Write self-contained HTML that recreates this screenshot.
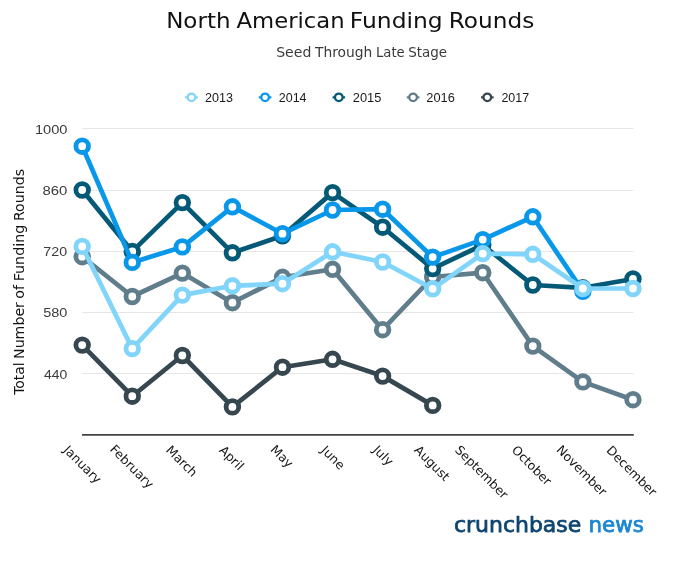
<!DOCTYPE html><html><head><meta charset="utf-8"><title>North American Funding Rounds</title><style>html,body{margin:0;padding:0;background:#fff;overflow:hidden;}svg{display:block;will-change:transform;}text{font-family:"DejaVu Sans","Liberation Sans",sans-serif;}</style></head><body>
<svg width="680" height="567" viewBox="0 0 680 567">
<rect width="680" height="567" fill="#fff"/>
<text x="166.15" y="28.1" font-size="21.6" font-weight="normal" fill="#111" textLength="64.36" lengthAdjust="spacingAndGlyphs">North</text>
<text x="236.55" y="28.1" font-size="21.6" font-weight="normal" fill="#111" textLength="108.12" lengthAdjust="spacingAndGlyphs">American</text>
<text x="349.85" y="28.1" font-size="21.6" font-weight="normal" fill="#111" textLength="92.8" lengthAdjust="spacingAndGlyphs">Funding</text>
<text x="448.75" y="28.1" font-size="21.6" font-weight="normal" fill="#111" textLength="85.51" lengthAdjust="spacingAndGlyphs">Rounds</text>
<text x="276.2" y="56.9" font-size="13.2" font-weight="normal" fill="#3a3a3a" textLength="35.15" lengthAdjust="spacingAndGlyphs">Seed</text>
<text x="315.0" y="56.9" font-size="13.2" font-weight="normal" fill="#3a3a3a" textLength="57.26" lengthAdjust="spacingAndGlyphs">Through</text>
<text x="375.95" y="56.9" font-size="13.2" font-weight="normal" fill="#3a3a3a" textLength="28.77" lengthAdjust="spacingAndGlyphs">Late</text>
<text x="408.25" y="56.9" font-size="13.2" font-weight="normal" fill="#3a3a3a" textLength="38.89" lengthAdjust="spacingAndGlyphs">Stage</text>
<line x1="185.20" y1="97.35" x2="197.80" y2="97.35" stroke="#81D4FA" stroke-width="2.2"/>
<circle cx="191.50" cy="97.35" r="3.8" fill="#fff" stroke="#81D4FA" stroke-width="2.3"/>
<text x="205.1" y="102.1" font-size="12.6" font-weight="normal" fill="#1a1a1a" textLength="27.93" lengthAdjust="spacingAndGlyphs" style="font-family:&quot;Liberation Sans&quot;,sans-serif">2013</text>
<line x1="258.80" y1="97.35" x2="271.40" y2="97.35" stroke="#0897E9" stroke-width="2.2"/>
<circle cx="265.10" cy="97.35" r="3.8" fill="#fff" stroke="#0897E9" stroke-width="2.3"/>
<text x="278.8" y="102.1" font-size="12.6" font-weight="normal" fill="#1a1a1a" textLength="27.77" lengthAdjust="spacingAndGlyphs" style="font-family:&quot;Liberation Sans&quot;,sans-serif">2014</text>
<line x1="332.50" y1="97.35" x2="345.10" y2="97.35" stroke="#045A76" stroke-width="2.2"/>
<circle cx="338.80" cy="97.35" r="3.8" fill="#fff" stroke="#045A76" stroke-width="2.3"/>
<text x="352.8" y="102.1" font-size="12.6" font-weight="normal" fill="#1a1a1a" textLength="28.55" lengthAdjust="spacingAndGlyphs" style="font-family:&quot;Liberation Sans&quot;,sans-serif">2015</text>
<line x1="406.80" y1="97.35" x2="419.40" y2="97.35" stroke="#607D8B" stroke-width="2.2"/>
<circle cx="413.10" cy="97.35" r="3.8" fill="#fff" stroke="#607D8B" stroke-width="2.3"/>
<text x="426.3" y="102.1" font-size="12.6" font-weight="normal" fill="#1a1a1a" textLength="28.55" lengthAdjust="spacingAndGlyphs" style="font-family:&quot;Liberation Sans&quot;,sans-serif">2016</text>
<line x1="481.00" y1="97.35" x2="493.60" y2="97.35" stroke="#37474F" stroke-width="2.2"/>
<circle cx="487.30" cy="97.35" r="3.8" fill="#fff" stroke="#37474F" stroke-width="2.3"/>
<text x="501.4" y="102.1" font-size="12.6" font-weight="normal" fill="#1a1a1a" textLength="27.82" lengthAdjust="spacingAndGlyphs" style="font-family:&quot;Liberation Sans&quot;,sans-serif">2017</text>
<line x1="82" y1="128.5" x2="633.3" y2="128.5" stroke="#e6e6e6" stroke-width="1"/>
<line x1="82" y1="190.5" x2="633.3" y2="190.5" stroke="#e6e6e6" stroke-width="1"/>
<line x1="82" y1="251.5" x2="633.3" y2="251.5" stroke="#e6e6e6" stroke-width="1"/>
<line x1="82" y1="312.5" x2="633.3" y2="312.5" stroke="#e6e6e6" stroke-width="1"/>
<line x1="82" y1="373.5" x2="633.3" y2="373.5" stroke="#e6e6e6" stroke-width="1"/>
<text x="34.9" y="133.9" font-size="12.5" font-weight="normal" fill="#3c3c3c" textLength="32.54" lengthAdjust="spacingAndGlyphs" style="font-family:&quot;Liberation Sans&quot;,sans-serif">1000</text>
<text x="42.4" y="195.0" font-size="12.5" font-weight="normal" fill="#3c3c3c" textLength="24.88" lengthAdjust="spacingAndGlyphs" style="font-family:&quot;Liberation Sans&quot;,sans-serif">860</text>
<text x="43.35" y="256.0" font-size="12.5" font-weight="normal" fill="#3c3c3c" textLength="23.73" lengthAdjust="spacingAndGlyphs" style="font-family:&quot;Liberation Sans&quot;,sans-serif">720</text>
<text x="43.2" y="316.9" font-size="12.5" font-weight="normal" fill="#3c3c3c" textLength="24.2" lengthAdjust="spacingAndGlyphs" style="font-family:&quot;Liberation Sans&quot;,sans-serif">580</text>
<text x="44.05" y="378.7" font-size="12.5" font-weight="normal" fill="#3c3c3c" textLength="23.28" lengthAdjust="spacingAndGlyphs" style="font-family:&quot;Liberation Sans&quot;,sans-serif">440</text>
<line x1="82" y1="434.9" x2="633.8" y2="434.9" stroke="#444" stroke-width="1.8"/>
<g transform="translate(24.4,400) rotate(-90)">
<text x="5.2" y="0" font-size="13.9" font-weight="normal" fill="#151515" textLength="32.3" lengthAdjust="spacingAndGlyphs">Total</text>
<text x="41.05" y="0" font-size="13.9" font-weight="normal" fill="#151515" textLength="56.89" lengthAdjust="spacingAndGlyphs">Number</text>
<text x="101.25" y="0" font-size="13.9" font-weight="normal" fill="#151515" textLength="13.81" lengthAdjust="spacingAndGlyphs">of</text>
<text x="118.65" y="0" font-size="13.9" font-weight="normal" fill="#151515" textLength="56.66" lengthAdjust="spacingAndGlyphs">Funding</text>
<text x="178.95" y="0" font-size="13.9" font-weight="normal" fill="#151515" textLength="52.07" lengthAdjust="spacingAndGlyphs">Rounds</text>
</g>
<text transform="translate(62.75,450.75) rotate(45)" font-size="12.5" fill="#151515">January</text>
<text transform="translate(109.25,450.0) rotate(45)" font-size="12.5" fill="#151515">February</text>
<text transform="translate(165.25,450.75) rotate(45)" font-size="12.5" fill="#151515">March</text>
<text transform="translate(218.45,450.9) rotate(45)" font-size="12.5" fill="#151515">April</text>
<text transform="translate(269.75,450.25) rotate(45)" font-size="12.5" fill="#151515">May</text>
<text transform="translate(320.35,451.1) rotate(45)" font-size="12.5" fill="#151515">June</text>
<text transform="translate(372.25,450.65) rotate(45)" font-size="12.5" fill="#151515">July</text>
<text transform="translate(413.6,450.85) rotate(45)" font-size="12.5" fill="#151515">August</text>
<text transform="translate(454.15,450.7) rotate(45)" font-size="12.5" fill="#151515">September</text>
<text transform="translate(511.05,450.7) rotate(45)" font-size="12.5" fill="#151515">October</text>
<text transform="translate(555.65,450.6) rotate(45)" font-size="12.5" fill="#151515">November</text>
<text transform="translate(605.8,451.1) rotate(45)" font-size="12.5" fill="#151515">December</text>
<polyline points="82.20,345.1 132.27,396.2 182.34,355.5 232.41,406.9 282.48,367.2 332.55,359.3 382.62,376.1 432.69,405.4" fill="none" stroke="#37474F" stroke-width="4.7" stroke-linejoin="round" stroke-linecap="round"/>
<circle cx="82.20" cy="345.1" r="6.3" fill="#fff" stroke="#37474F" stroke-width="4.8"/>
<circle cx="132.27" cy="396.2" r="6.3" fill="#fff" stroke="#37474F" stroke-width="4.8"/>
<circle cx="182.34" cy="355.5" r="6.3" fill="#fff" stroke="#37474F" stroke-width="4.8"/>
<circle cx="232.41" cy="406.9" r="6.3" fill="#fff" stroke="#37474F" stroke-width="4.8"/>
<circle cx="282.48" cy="367.2" r="6.3" fill="#fff" stroke="#37474F" stroke-width="4.8"/>
<circle cx="332.55" cy="359.3" r="6.3" fill="#fff" stroke="#37474F" stroke-width="4.8"/>
<circle cx="382.62" cy="376.1" r="6.3" fill="#fff" stroke="#37474F" stroke-width="4.8"/>
<circle cx="432.69" cy="405.4" r="6.3" fill="#fff" stroke="#37474F" stroke-width="4.8"/>
<polyline points="82.20,256.7 132.27,296.5 182.34,273.1 232.41,302.7 282.48,277.3 332.55,269.3 382.62,329.7 432.69,277.0 482.76,272.7 532.83,346.1 582.90,381.9 632.97,399.7" fill="none" stroke="#607D8B" stroke-width="4.7" stroke-linejoin="round" stroke-linecap="round"/>
<circle cx="82.20" cy="256.7" r="6.3" fill="#fff" stroke="#607D8B" stroke-width="4.8"/>
<circle cx="132.27" cy="296.5" r="6.3" fill="#fff" stroke="#607D8B" stroke-width="4.8"/>
<circle cx="182.34" cy="273.1" r="6.3" fill="#fff" stroke="#607D8B" stroke-width="4.8"/>
<circle cx="232.41" cy="302.7" r="6.3" fill="#fff" stroke="#607D8B" stroke-width="4.8"/>
<circle cx="282.48" cy="277.3" r="6.3" fill="#fff" stroke="#607D8B" stroke-width="4.8"/>
<circle cx="332.55" cy="269.3" r="6.3" fill="#fff" stroke="#607D8B" stroke-width="4.8"/>
<circle cx="382.62" cy="329.7" r="6.3" fill="#fff" stroke="#607D8B" stroke-width="4.8"/>
<circle cx="432.69" cy="277.0" r="6.3" fill="#fff" stroke="#607D8B" stroke-width="4.8"/>
<circle cx="482.76" cy="272.7" r="6.3" fill="#fff" stroke="#607D8B" stroke-width="4.8"/>
<circle cx="532.83" cy="346.1" r="6.3" fill="#fff" stroke="#607D8B" stroke-width="4.8"/>
<circle cx="582.90" cy="381.9" r="6.3" fill="#fff" stroke="#607D8B" stroke-width="4.8"/>
<circle cx="632.97" cy="399.7" r="6.3" fill="#fff" stroke="#607D8B" stroke-width="4.8"/>
<polyline points="82.20,190.0 132.27,251.4 182.34,202.6 232.41,252.8 282.48,235.8 332.55,192.6 382.62,227.2 432.69,268.6 482.76,245.0 532.83,285.0 582.90,287.8 632.97,279.0" fill="none" stroke="#045A76" stroke-width="4.7" stroke-linejoin="round" stroke-linecap="round"/>
<circle cx="82.20" cy="190.0" r="6.3" fill="#fff" stroke="#045A76" stroke-width="4.8"/>
<circle cx="132.27" cy="251.4" r="6.3" fill="#fff" stroke="#045A76" stroke-width="4.8"/>
<circle cx="182.34" cy="202.6" r="6.3" fill="#fff" stroke="#045A76" stroke-width="4.8"/>
<circle cx="232.41" cy="252.8" r="6.3" fill="#fff" stroke="#045A76" stroke-width="4.8"/>
<circle cx="282.48" cy="235.8" r="6.3" fill="#fff" stroke="#045A76" stroke-width="4.8"/>
<circle cx="332.55" cy="192.6" r="6.3" fill="#fff" stroke="#045A76" stroke-width="4.8"/>
<circle cx="382.62" cy="227.2" r="6.3" fill="#fff" stroke="#045A76" stroke-width="4.8"/>
<circle cx="432.69" cy="268.6" r="6.3" fill="#fff" stroke="#045A76" stroke-width="4.8"/>
<circle cx="482.76" cy="245.0" r="6.3" fill="#fff" stroke="#045A76" stroke-width="4.8"/>
<circle cx="532.83" cy="285.0" r="6.3" fill="#fff" stroke="#045A76" stroke-width="4.8"/>
<circle cx="582.90" cy="287.8" r="6.3" fill="#fff" stroke="#045A76" stroke-width="4.8"/>
<circle cx="632.97" cy="279.0" r="6.3" fill="#fff" stroke="#045A76" stroke-width="4.8"/>
<polyline points="82.20,146.2 132.27,262.4 182.34,246.9 232.41,206.8 282.48,233.7 332.55,210.0 382.62,209.2 432.69,257.1 482.76,239.6 532.83,216.8 582.90,291.3" fill="none" stroke="#0897E9" stroke-width="4.7" stroke-linejoin="round" stroke-linecap="round"/>
<circle cx="82.20" cy="146.2" r="6.3" fill="#fff" stroke="#0897E9" stroke-width="4.8"/>
<circle cx="132.27" cy="262.4" r="6.3" fill="#fff" stroke="#0897E9" stroke-width="4.8"/>
<circle cx="182.34" cy="246.9" r="6.3" fill="#fff" stroke="#0897E9" stroke-width="4.8"/>
<circle cx="232.41" cy="206.8" r="6.3" fill="#fff" stroke="#0897E9" stroke-width="4.8"/>
<circle cx="282.48" cy="233.7" r="6.3" fill="#fff" stroke="#0897E9" stroke-width="4.8"/>
<circle cx="332.55" cy="210.0" r="6.3" fill="#fff" stroke="#0897E9" stroke-width="4.8"/>
<circle cx="382.62" cy="209.2" r="6.3" fill="#fff" stroke="#0897E9" stroke-width="4.8"/>
<circle cx="432.69" cy="257.1" r="6.3" fill="#fff" stroke="#0897E9" stroke-width="4.8"/>
<circle cx="482.76" cy="239.6" r="6.3" fill="#fff" stroke="#0897E9" stroke-width="4.8"/>
<circle cx="532.83" cy="216.8" r="6.3" fill="#fff" stroke="#0897E9" stroke-width="4.8"/>
<circle cx="582.90" cy="291.3" r="6.3" fill="#fff" stroke="#0897E9" stroke-width="4.8"/>
<polyline points="82.20,246.4 132.27,348.6 182.34,295.1 232.41,285.8 282.48,283.7 332.55,251.8 382.62,262.0 432.69,288.8 482.76,253.6 532.83,254.3 582.90,288.5 632.97,288.5" fill="none" stroke="#81D4FA" stroke-width="4.7" stroke-linejoin="round" stroke-linecap="round"/>
<circle cx="82.20" cy="246.4" r="6.3" fill="#fff" stroke="#81D4FA" stroke-width="4.8"/>
<circle cx="132.27" cy="348.6" r="6.3" fill="#fff" stroke="#81D4FA" stroke-width="4.8"/>
<circle cx="182.34" cy="295.1" r="6.3" fill="#fff" stroke="#81D4FA" stroke-width="4.8"/>
<circle cx="232.41" cy="285.8" r="6.3" fill="#fff" stroke="#81D4FA" stroke-width="4.8"/>
<circle cx="282.48" cy="283.7" r="6.3" fill="#fff" stroke="#81D4FA" stroke-width="4.8"/>
<circle cx="332.55" cy="251.8" r="6.3" fill="#fff" stroke="#81D4FA" stroke-width="4.8"/>
<circle cx="382.62" cy="262.0" r="6.3" fill="#fff" stroke="#81D4FA" stroke-width="4.8"/>
<circle cx="432.69" cy="288.8" r="6.3" fill="#fff" stroke="#81D4FA" stroke-width="4.8"/>
<circle cx="482.76" cy="253.6" r="6.3" fill="#fff" stroke="#81D4FA" stroke-width="4.8"/>
<circle cx="532.83" cy="254.3" r="6.3" fill="#fff" stroke="#81D4FA" stroke-width="4.8"/>
<circle cx="582.90" cy="288.5" r="6.3" fill="#fff" stroke="#81D4FA" stroke-width="4.8"/>
<circle cx="632.97" cy="288.5" r="6.3" fill="#fff" stroke="#81D4FA" stroke-width="4.8"/>
<text x="454" y="531.7" font-size="20.6" fill="#0E4470" stroke="#0E4470" stroke-width="0.75" textLength="127.2" lengthAdjust="spacingAndGlyphs">crunchbase</text>
<text x="588.4" y="531.7" font-size="20.6" fill="#1C86D1" stroke="#1C86D1" stroke-width="0.75" textLength="55.4" lengthAdjust="spacingAndGlyphs">news</text>
</svg></body></html>
